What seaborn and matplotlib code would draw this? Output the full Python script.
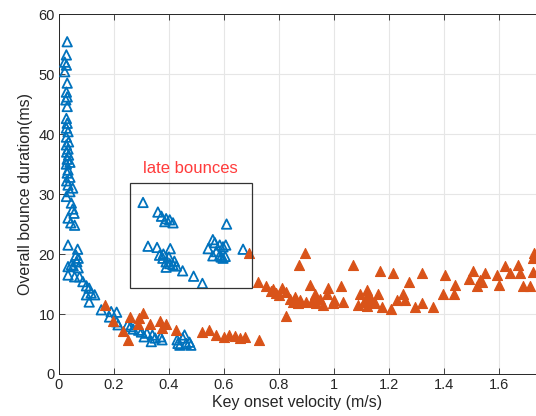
import matplotlib
matplotlib.use("Agg")
import matplotlib.pyplot as plt
import seaborn as sns
import pandas as pd
from matplotlib.patches import Rectangle

# Blue (open triangles) series
blue_x = [0.030,0.027,0.021,0.027,0.021,0.030,0.027,0.030,0.025,0.030,0.027,0.030,0.027,0.033,0.027,0.035,0.027,
          0.033,0.028,0.035,0.030,0.040,0.027,0.033,0.030,0.040,0.028,0.033,0.050,0.040,0.027,0.045,0.050,0.055,
          0.033,0.043,0.057,0.033,0.068,0.070,0.065,0.045,0.033,0.070,0.033,0.057,0.075,0.052,0.062,
          0.087,0.100,0.110,0.117,0.100,0.130,0.110,0.154,0.190,0.210,0.184,0.210,0.215,0.250,0.260,0.290,0.300,
          0.320,0.340,0.336,0.370,0.375,0.350,0.430,0.433,0.450,0.457,0.463,0.480,0.440,0.475,0.270,0.310,
          0.306,0.360,0.373,0.390,0.403,0.415,0.385,0.610,0.324,0.357,0.405,0.366,0.378,0.390,0.403,0.415,0.427,
          0.390,0.450,0.490,0.522,0.380,0.400,0.420,0.543,0.560,0.567,0.585,0.597,0.607,0.573,0.585,0.597,0.590,
          0.560,0.605,0.670]
blue_y = [55.4,53.2,52.0,51.5,50.4,48.5,47.0,46.2,45.7,44.6,42.6,41.8,41.0,40.4,39.5,38.7,38.2,
          37.5,37.0,36.5,35.8,35.3,35.0,34.0,33.5,32.8,32.2,31.5,31.0,30.4,29.6,28.5,27.5,26.8,
          26.0,25.2,24.8,21.5,20.8,19.3,18.7,18.2,17.9,17.7,16.5,16.2,16.2,18.0,19.8,
          15.4,14.7,14.3,13.5,13.2,13.2,12.0,10.7,10.4,10.3,9.5,8.7,8.2,8.2,7.9,7.3,7.0,
          6.8,6.5,5.4,6.2,5.7,6.0,5.7,5.1,6.0,6.5,5.1,4.8,4.8,5.3,7.5,6.2,
          28.6,27.0,26.3,25.9,25.7,25.2,25.4,25.0,21.3,21.1,20.9,19.8,19.3,18.7,18.4,18.2,18.0,
          17.8,17.2,16.3,15.1,20.0,19.5,18.8,20.9,22.4,21.9,21.5,21.2,21.5,20.4,19.8,19.3,19.5,
          19.7,19.6,20.8]

# Orange (filled triangles) series
orange_x = [0.166,0.198,0.257,0.233,0.250,0.306,0.290,0.287,0.330,0.366,0.390,0.376,0.425,0.520,0.546,0.573,
            0.600,0.620,0.640,0.676,0.660,0.727,0.825,0.690,0.725,0.755,0.780,0.810,0.828,0.858,0.877,0.900,
            0.895,0.874,0.915,0.930,0.937,0.960,0.980,0.974,0.998,1.028,1.034,1.070,1.095,1.090,1.120,1.113,
            1.125,1.120,1.138,1.162,1.168,1.174,1.217,1.210,1.229,1.253,1.259,1.275,1.295,1.320,1.320,1.360,
            1.396,1.405,1.440,1.438,1.493,1.505,1.522,1.532,1.550,1.540,1.593,1.600,1.623,1.640,1.672,1.678,
            1.690,1.715,1.724,1.726,1.730,0.790,0.800,0.840,0.850,0.870,0.920,0.950,1.000,1.110,1.130,1.150,0.770]
orange_y = [11.5,8.9,9.5,7.2,5.7,10.2,9.3,8.4,8.4,8.9,8.3,7.6,7.4,7.0,7.3,6.5,
            6.2,6.5,6.3,6.2,6.0,5.7,9.7,20.2,15.4,14.6,14.1,14.3,13.7,12.9,12.3,12.0,
            20.1,18.2,14.8,13.4,11.8,11.5,14.3,13.4,11.8,14.6,12.0,18.2,13.4,11.5,14.0,12.3,
            12.9,11.3,12.0,13.4,17.1,11.2,16.9,10.9,12.3,13.4,12.3,15.4,11.2,16.9,11.9,11.1,
            13.4,16.5,14.8,13.4,15.8,17.1,14.6,15.7,16.8,15.4,16.5,14.8,18.0,16.8,18.2,16.8,
            14.6,14.6,19.3,17.0,20.1,13.5,13.2,12.5,12.0,11.8,12.2,12.5,12.4,12.0,13.2,11.8,13.8]

xticks = [0, 0.2, 0.4, 0.6, 0.8, 1, 1.2, 1.4, 1.6]
xtick_labels = ["0", "0.2", "0.4", "0.6", "0.8", "1", "1.2", "1.4", "1.6"]
yticks = [0, 10, 20, 30, 40, 50, 60]

BLUE = "#0072BD"
ORANGE = "#D95319"
AXC = "#262626"

sns.set_style("white")
plt.rcParams["font.family"] = ["Liberation Sans", "DejaVu Sans"]

fig = plt.figure(figsize=(5.36, 4.16), dpi=100)
ax = fig.add_axes([0.110, 0.101, 0.890, 0.865])

df_b = pd.DataFrame({"x": blue_x, "y": blue_y})
df_o = pd.DataFrame({"x": orange_x, "y": orange_y})

sns.scatterplot(data=df_b, x="x", y="y", ax=ax, marker="^", s=46,
                facecolor="none", edgecolor=BLUE, linewidth=1.3, zorder=3)
sns.scatterplot(data=df_o, x="x", y="y", ax=ax, marker="^", s=52,
                color=ORANGE, edgecolor=ORANGE, linewidth=0.8, zorder=4)

ax.set_xlim(0, 1.736)
ax.set_ylim(0, 60)
ax.set_xticks(xticks)
ax.set_xticklabels(xtick_labels)
ax.set_yticks(yticks)
ax.grid(True, color="#e6e6e6", linewidth=0.8)
ax.set_axisbelow(True)
ax.tick_params(direction="in", length=4, width=0.6, colors=AXC, labelsize=10.5,
               top=True, bottom=True, left=True, right=False, pad=3)
for s in ["left", "bottom", "top"]:
    ax.spines[s].set_color(AXC)
    ax.spines[s].set_linewidth(0.7)
ax.spines["right"].set_visible(False)

ax.set_xlabel("Key onset velocity (m/s)", fontsize=11.5, color=AXC, labelpad=2)
ax.set_ylabel("Overall bounce duration(ms)", fontsize=11.5, color=AXC, labelpad=4)

ax.add_patch(Rectangle((0.257, 14.3), 0.703 - 0.257, 31.9 - 14.3, fill=False,
                       edgecolor="#333333", linewidth=0.9, zorder=5))
ax.text(0.479, 34.3, "late bounces", color="#FF3B3B", fontsize=12,
        ha="center", va="center")

fig.savefig("out.png", dpi=100)
